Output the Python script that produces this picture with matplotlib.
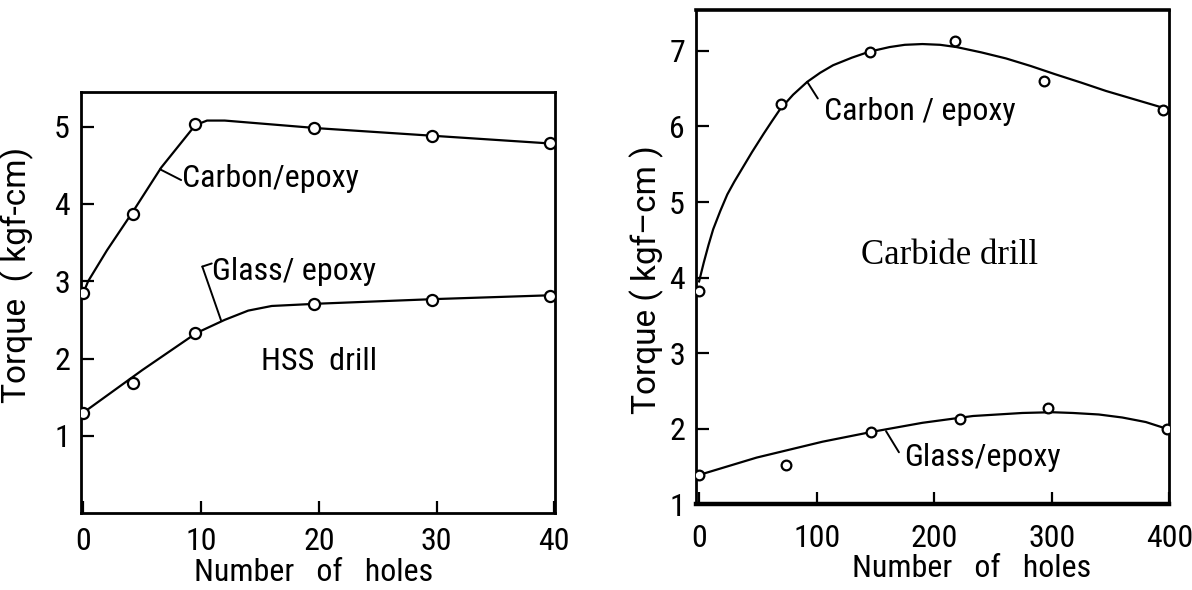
import os
import matplotlib
matplotlib.use('Agg')
import matplotlib.pyplot as plt
import matplotlib.font_manager as fm

# HSS drill (left)
hss_holes = [0, 4.2, 9.5, 19.6, 29.6, 39.6]
hss_carbon = [2.85, 3.87, 5.03, 4.98, 4.88, 4.79]
hss_glass = [1.30, 1.68, 2.33, 2.71, 2.76, 2.81]

# hand-drawn trend lines of the original figure
hss_carbon_line_x = [0, 0.4, 2.0, 4.2, 6.6, 9.5, 10.5, 12, 20, 30, 40]
hss_carbon_line_y = [2.85, 3.0, 3.4, 3.9, 4.47, 5.02, 5.08, 5.08, 4.98, 4.88, 4.78]
hss_glass_line_x = [0, 5, 9.6, 12, 14, 16, 20, 30, 40]
hss_glass_line_y = [1.30, 1.85, 2.33, 2.5, 2.62, 2.68, 2.71, 2.77, 2.82]

# carbide drill (right)
cb_holes = [0, 70, 145, 218, 293, 395]
cb_carbon = [3.83, 6.30, 6.99, 7.13, 6.60, 6.22]
cb_glass_holes = [0, 74, 146, 222, 297, 398]
cb_glass = [1.39, 1.52, 1.96, 2.13, 2.27, 2.00]

cb_carbon_line_x = [0, 4, 8, 12, 18, 24, 30, 35, 45, 55, 62, 69, 80, 92, 103, 114, 130,
                    145, 162, 175, 190, 205, 219, 240, 261, 282, 303, 325, 346, 370, 394, 400]
cb_carbon_line_y = [3.95, 4.20, 4.43, 4.64, 4.88, 5.10, 5.27, 5.40, 5.66, 5.905, 6.07, 6.23,
                    6.42, 6.59, 6.71, 6.81, 6.91, 6.99, 7.05, 7.08, 7.09, 7.08, 7.05, 6.98,
                    6.90, 6.80, 6.69, 6.58, 6.47, 6.36, 6.25, 6.23]
cb_glass_line_x = [0, 49, 105, 147, 190, 233, 275, 300, 318, 340, 360, 380, 400]
cb_glass_line_y = [1.39, 1.62, 1.83, 1.96, 2.08, 2.17, 2.21, 2.22, 2.21, 2.19, 2.15, 2.09, 1.99]


def narrow_font():
    # the scan uses a tall, narrow drafting lettering
    prefs = ['liberationsansnarrow-regular', 'robotocondensed-regular',
             'dejavusanscondensed.ttf', 'notosans-condensed.ttf',
             'notosans-condensedregular', 'opensans-condensed', 'opensans_condensed-regular']
    files = [f.fname for f in fm.fontManager.ttflist]
    for p in prefs:
        for f in files:
            if os.path.basename(f).lower().startswith(p):
                return f
    for f in files:
        b = os.path.basename(f).lower()
        if ('condensed' in b or 'narrow' in b) and not any(
                k in b for k in ['bold', 'italic', 'light', 'thin', 'black', 'medium', 'semi', 'extra', 'mono']):
            return f
    return None


path = narrow_font()


def fp(size):
    if path:
        return fm.FontProperties(fname=path, size=size)
    return fm.FontProperties(family='DejaVu Sans', size=size * 0.8)


tick_fs = 23
lab_fs = 23
ann_fs = 23
ylab_font = dict(family=['Roboto', 'DejaVu Sans'], fontsize=24)

line_kw = dict(color='black', lw=1.6)
mk_kw = dict(ls='none', marker='o', mfc='white', mec='black', mew=1.6, zorder=3)
lead_kw = dict(arrowstyle='-', color='black', lw=1.4, shrinkA=0, shrinkB=0)

fig = plt.figure(figsize=(11.92, 5.9), dpi=100)

# ---- left: HSS drill
ax1 = fig.add_axes([0.068, 0.1305, 0.398, 0.7136])
ax1.plot(hss_carbon_line_x, hss_carbon_line_y, **line_kw)
ax1.plot(hss_glass_line_x, hss_glass_line_y, **line_kw)
ax1.plot(hss_holes, hss_carbon, ms=8, **mk_kw)
ax1.plot(hss_holes, hss_glass, ms=8, **mk_kw)
ax1.set_xlim(-0.2, 40.1)
ax1.set_ylim(0, 5.45)
ax1.set_xticks([0, 10, 20, 30, 40])
ax1.set_yticks([1, 2, 3, 4, 5])
ax1.tick_params(direction='in', length=9, width=1.6)
ax1.tick_params(axis='x', pad=10)
ax1.tick_params(axis='y', pad=8)
ax1.set_xlabel('Number   of   holes', fontproperties=fp(lab_fs))
ax1.set_ylabel('Torque  ( kgf-cm)', **ylab_font)
ax1.xaxis.set_label_coords(0.49, -0.107)
ax1.yaxis.set_label_coords(-0.099, 0.565)

ax1.annotate('', xy=(6.5, 4.45), xytext=(8.3, 4.31), arrowprops=lead_kw)
ax1.text(8.4, 4.33, 'Carbon/epoxy', fontproperties=fp(ann_fs), va='center', ha='left')
ax1.annotate('', xy=(11.7, 2.49), xytext=(10.1, 3.19), arrowprops=lead_kw)
ax1.annotate('', xy=(10.1, 3.19), xytext=(10.9, 3.23), arrowprops=lead_kw)
ax1.text(10.9, 3.12, 'Glass/ epoxy', fontproperties=fp(ann_fs), va='center', ha='left')
ax1.text(20.0, 1.96, 'HSS  drill', fontproperties=fp(ann_fs), va='center', ha='center')

# ---- right: carbide drill
ax2 = fig.add_axes([0.584, 0.145, 0.397, 0.838])
ax2.plot(cb_carbon_line_x, cb_carbon_line_y, **line_kw)
ax2.plot(cb_glass_line_x, cb_glass_line_y, **line_kw)
ax2.plot(cb_holes, cb_carbon, ms=7, **mk_kw)
ax2.plot(cb_glass_holes, cb_glass, ms=7, **mk_kw)
ax2.set_xlim(-2.5, 400)
ax2.set_ylim(1, 7.54)
ax2.set_xticks([0, 100, 200, 300, 400])
ax2.set_yticks([1, 2, 3, 4, 5, 6, 7])
ax2.tick_params(direction='in', length=9, width=1.6)
ax2.tick_params(axis='x', pad=14)
ax2.tick_params(axis='y', pad=8)
ax2.set_xlabel('Number   of   holes', fontproperties=fp(lab_fs))
ax2.set_ylabel('Torque ( kgf\u2013cm )', **ylab_font)
ax2.xaxis.set_label_coords(0.581, -0.100)
ax2.yaxis.set_label_coords(-0.068, 0.455)

ax2.annotate('', xy=(92, 6.59), xytext=(101, 6.37), arrowprops=lead_kw)
ax2.text(106, 6.20, 'Carbon / epoxy', fontproperties=fp(ann_fs), va='center', ha='left')
ax2.annotate('', xy=(159, 1.97), xytext=(170, 1.69), arrowprops=lead_kw)
ax2.text(174, 1.62, 'Glass/epoxy', fontproperties=fp(ann_fs), va='center', ha='left')
ax2.text(213, 4.29, 'Carbide drill', fontsize=25, va='center', ha='center',
         family=['Liberation Serif', 'DejaVu Serif'])

for ax in (ax1, ax2):
    for lbl in ax.get_xticklabels() + ax.get_yticklabels():
        lbl.set_fontproperties(fp(tick_fs))
    for s in ax.spines.values():
        s.set_linewidth(2.0)
ax2.spines['bottom'].set_linewidth(3.2)
ax2.spines['top'].set_linewidth(2.6)

fig.savefig('out.png', dpi=100)
